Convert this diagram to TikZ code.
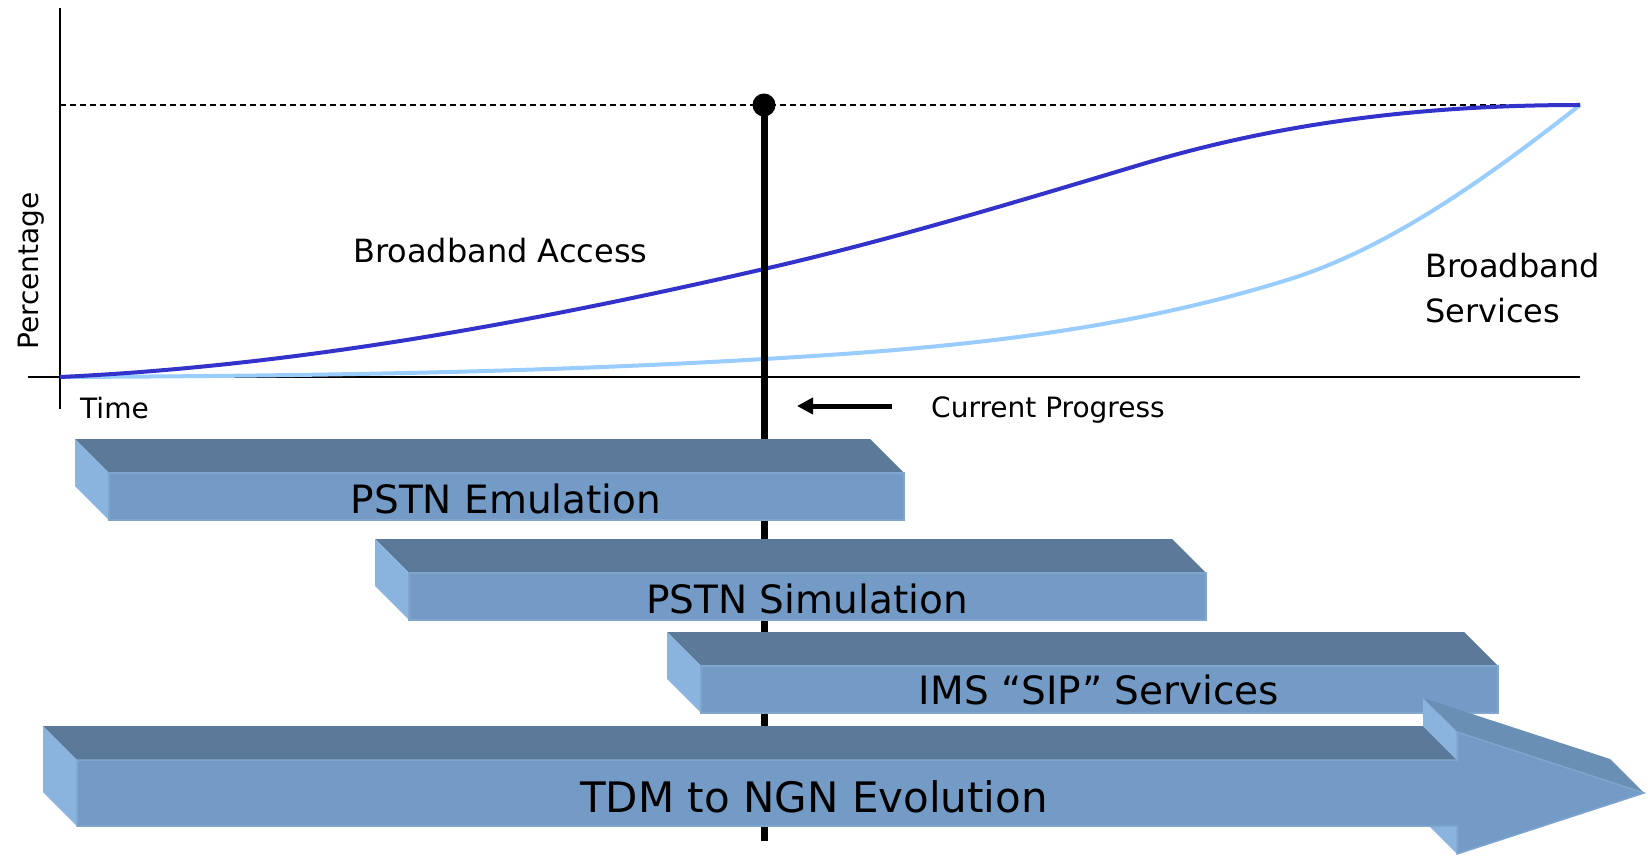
\documentclass[tikz,border=0pt]{standalone}
\usepackage{fontspec}
\setmainfont{DejaVu Sans}
\usetikzlibrary{arrows.meta}
\definecolor{frontc}{RGB}{116,155,197}
\definecolor{topc}{RGB}{91,122,153}
\definecolor{sidec}{RGB}{138,179,222}
\definecolor{headc}{RGB}{106,143,181}
\definecolor{edgec}{RGB}{128,166,206}
\definecolor{darkcurve}{RGB}{51,51,204}
\definecolor{lightcurve}{RGB}{153,204,255}
\newcommand\tdbar[4]{%
 \fill[topc] (#1-34,#3-34) -- (#2-34,#3-34) -- (#2,#3) -- (#1,#3) -- cycle;
 \fill[sidec] (#1-34,#3-34) -- (#1,#3) -- (#1,#4) -- (#1-34,#4-34) -- cycle;
 \filldraw[fill=frontc, draw=edgec, line width=1.5pt] (#1,#3) rectangle (#2,#4);
}
\begin{document}
\begin{tikzpicture}[x=1pt,y=-1pt,
  axis/.style={line width=2pt},
  curve/.style={line width=4pt},
  lbl/.style={inner sep=0pt, font=\fontsize{28}{34}\selectfont},
  biglbl/.style={inner sep=0pt, font=\fontsize{32}{45}\selectfont},
  barlbl/.style={inner sep=0pt, font=\fontsize{39}{45}\selectfont}]
\fill[white] (0,0) rectangle (1648,858);
\useasboundingbox (0,0) rectangle (1648,858);
% axes
\coordinate (ytop) at (60,8);
\coordinate (ybot) at (60,409);
\coordinate (xl) at (28,377);
\coordinate (xr) at (1580,377);
\coordinate (dl) at (60,105);
\coordinate (dr) at (1580,105);
\draw[axis] (ytop) -- (ybot);
\draw[axis] (xl) -- (xr);
\draw[line width=1.5pt, dash pattern=on 6pt off 4pt] (dl) -- (dr);
% curves
\coordinate (origin) at (60,377);
\coordinate (lmid) at (764,359);
\coordinate (lmid2) at (1287,280);
\coordinate (dmid) at (764,269);
\coordinate (dmid2) at (1146,163);
\draw[lightcurve, curve] (origin) .. controls (295,376) and (529,373) .. (lmid)
  .. controls (938,349) and (1113,334) .. (lmid2)
  .. controls (1385,250) and (1482,182) .. (dr);
\draw[darkcurve, curve] (origin) .. controls (295,366) and (529,323) .. (dmid)
  .. controls (891,240) and (1019,201) .. (dmid2)
  .. controls (1291,120) and (1435,105) .. (dr);
% current progress line
\node[circle, fill=black, inner sep=0pt, minimum size=23pt] (dot) at (764,105) {};
\coordinate (vbot) at (764,841);
\draw[line width=7pt] (dot.center) -- (vbot);
% labels
\node[lbl, rotate=90, anchor=base west] (perc) at (38,350) {Percentage};
\node[biglbl, anchor=base west] (bba) at (353,263) {Broadband Access};
\node[lbl, anchor=base west] (time) at (80,418) {Time};
\coordinate (arrS) at (892,406);
\coordinate (arrE) at (797,406);
\draw[line width=5pt, -{Triangle[length=16pt,width=16pt]}] (arrS) -- (arrE);
\node[lbl, anchor=base west] (cur) at (931,417) {Current Progress};
\node[biglbl, anchor=base west, align=left] (bbs) at (1425,323) {Broadband\\Services};
% bars
\tdbar{109}{904}{473}{520}
\node[barlbl, anchor=base] (emu) at (506,513) {PSTN Emulation};
\tdbar{409}{1206}{573}{620}
\node[barlbl, anchor=base] (sim) at (807,613) {PSTN Simulation};
\tdbar{701}{1498}{666}{713}
\node[barlbl, anchor=base] (ims) at (1099,704) {IMS “SIP” Services};
% TDM arrow
\fill[topc] (43,726) -- (1423,726) -- (1457,760) -- (77,760) -- cycle;
\fill[sidec] (43,726) -- (77,760) -- (77,826) -- (43,792) -- cycle;
\fill[sidec] (1423,698) -- (1457,732) -- (1457,760) -- (1423,726) -- cycle;
\fill[headc] (1423,698) -- (1610,759) -- (1644,793) -- (1457,732) -- cycle;
\fill[sidec] (1423,792) -- (1457,826) -- (1457,854) -- (1423,820) -- cycle;
\filldraw[fill=frontc, draw=edgec, line width=1.5pt] (77,760) -- (1457,760) -- (1457,732) -- (1644,793) -- (1457,854) -- (1457,826) -- (77,826) -- cycle;
\node[inner sep=0pt, font=\fontsize{42}{48}\selectfont, anchor=base] (tdm) at (814,812) {TDM to NGN Evolution};
\end{tikzpicture}
\end{document}
